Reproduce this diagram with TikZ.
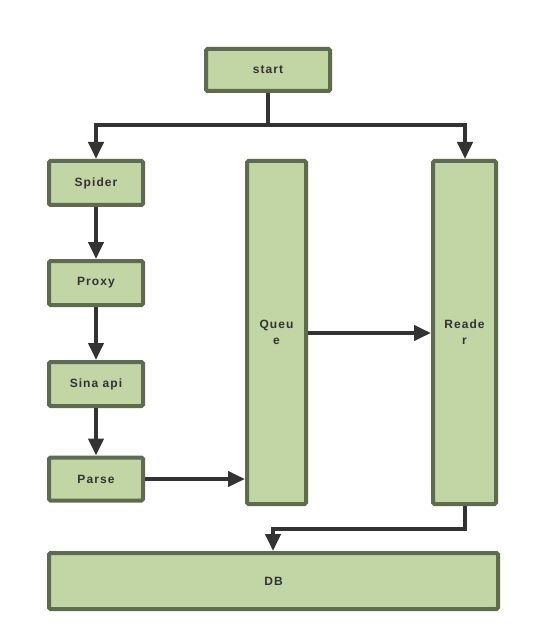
\documentclass[tikz,border=0pt]{standalone}
\usepackage{fontspec}
\setmainfont{Liberation Sans}
\newfontfamily\boxfont[LetterSpace=9]{Liberation Sans}
\usetikzlibrary{arrows.meta}
\definecolor{boxfill}{HTML}{C2D5A5}
\definecolor{boxline}{HTML}{5F6B4F}
\definecolor{arr}{HTML}{333333}
\tikzset{
  box/.style={draw=boxline, fill=boxfill, line width=4pt, rounded corners=1.5pt,
    inner sep=0pt, align=center, font=\boxfont\fontsize{12}{16}\selectfont\bfseries, text=arr},
  conn/.style={draw=arr, line width=4pt, -{Triangle[length=17pt,width=15pt]}},
  plain/.style={draw=arr, line width=4pt}
}
\begin{document}
\begin{tikzpicture}[x=1pt,y=-1pt]
\useasboundingbox (0,0) rectangle (532,644);
\node[box, minimum width=124pt, minimum height=42pt] (start) at (268,70) {start};
\node[box, minimum width=94pt, minimum height=44pt] (spider) at (96,183) {Spider};
\node[box, minimum width=94pt, minimum height=44pt] (proxy) at (96,283) {Proxy};
\node[box, minimum width=94pt, minimum height=44pt] (sina) at (96,384) {Sina api};
\node[box, minimum width=94pt, minimum height=43pt] (parse) at (96,479) {Parse};
\node[box, minimum width=59pt, minimum height=343pt] (queue) at (276.5,332.5) {Queu\\e};
\node[box, minimum width=63pt, minimum height=343pt] (reader) at (464.5,332.5) {Reade\\r};
\node[box, minimum width=449pt, minimum height=56pt] (db) at (273.5,581) {DB};
\coordinate (j1) at (268,125);
\coordinate (jl) at (96,125);
\coordinate (jr) at (465,125);
\coordinate (j2) at (465,529);
\coordinate (j3) at (273,529);
\draw[plain] (start.south) -- (j1);
\draw[plain] ([xshift=-2pt]jl) -- ([xshift=2pt]jr);
\draw[conn] (jl) -- (spider.north);
\draw[conn] (jr) -- (jr |- reader.north);
\draw[conn] (spider) -- (proxy);
\draw[conn] (proxy) -- (sina);
\draw[conn] (sina) -- (parse);
\draw[conn] (parse.east) -- (queue.west |- parse.east);
\draw[conn] (queue.east |- 0,333) -- (reader.west |- 0,333);
\draw[plain] (reader.south -| j2) -- (j2) -- ([xshift=-2pt]j3);
\draw[conn] (j3) -- (db.north -| j3);
\end{tikzpicture}
\end{document}
